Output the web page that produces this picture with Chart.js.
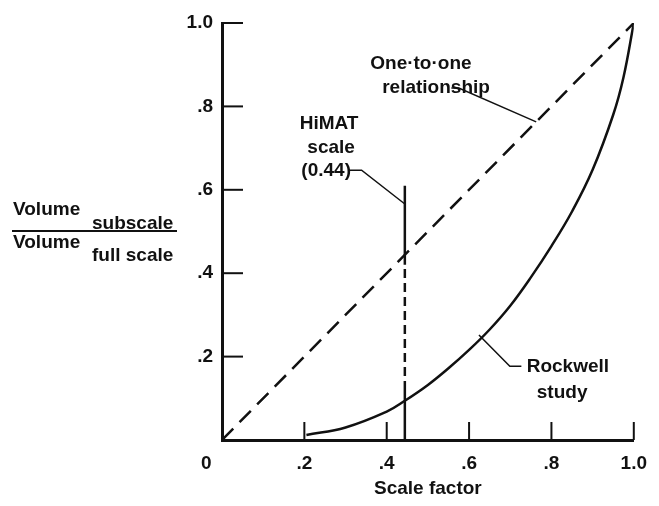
<!DOCTYPE html>
<html>
<head>
<meta charset="utf-8">
<script src="https://cdn.jsdelivr.net/npm/chart.js@4/dist/chart.umd.min.js"></script>
<style>
  html, body { margin: 0; padding: 0; background: #fff; }
  #wrap { width: 659px; height: 506px; }
</style>
</head>
<body>
<div id="wrap"><canvas id="chart" width="659" height="506"></canvas></div>
<script>
// ==== data ====
const xTickLabels = ['0', '.2', '.4', '.6', '.8', '1.0'];
const yTickLabels = ['', '.2', '.4', '.6', '.8', '1.0'];

const oneToOneX = [0, 1];
const oneToOneY = [0, 1];

const rockwellX = [0.205, 0.30, 0.40, 0.444, 0.50, 0.55, 0.60, 0.65, 0.70, 0.75, 0.80, 0.85, 0.90, 0.95, 0.975, 1.0];
const rockwellY = [0.012, 0.030, 0.068, 0.094, 0.132, 0.172, 0.216, 0.265, 0.322, 0.390, 0.465, 0.548, 0.648, 0.780, 0.870, 1.0];

// HiMAT scale line at 0.44 (solid / dashed / solid pieces)
const himatX = [0.444, 0.444, 0.444, 0.444];
const himatY = [0, 0.12, 0.42, 0.61];

const FONT = "'Liberation Sans', Arial, sans-serif";
const INK = '#111';

// annotation leaders (value space)
const leaders = [
  [[0.308, 0.647], [0.339, 0.647], [0.444, 0.566]],
  [[0.557, 0.844], [0.575, 0.844], [0.763, 0.763]],
  [[0.624, 0.252], [0.699, 0.177], [0.727, 0.177]]
];

const notes = [
  { text: 'HiMAT', x: 0.260, y: 0.758, align: 'center' },
  { text: 'scale', x: 0.265, y: 0.700, align: 'center' },
  { text: '(0.44)', x: 0.253, y: 0.645, align: 'center' },
  { text: 'One\u00b7to\u00b7one', x: 0.360, y: 0.902, align: 'left' },
  { text: 'relationship', x: 0.389, y: 0.844, align: 'left' },
  { text: 'Rockwell', x: 0.740, y: 0.175, align: 'left' },
  { text: 'study', x: 0.826, y: 0.113, align: 'center' }
];

const toPts = (xs, ys) => xs.map((v, i) => ({ x: v, y: ys[i] }));

// ==== extras: inward ticks, leaders, notes, y fraction label ====
const extras = {
  id: 'extras',
  afterDatasetsDraw(chart) {
    const { ctx, scales: { x, y } } = chart;
    const seg = (a, b, c, d) => { ctx.beginPath(); ctx.moveTo(a, b); ctx.lineTo(c, d); ctx.stroke(); };
    ctx.save();
    ctx.strokeStyle = INK;
    ctx.fillStyle = INK;

    ctx.lineWidth = 2;
    x.ticks.forEach(t => {
      if (t.value === 0) return;
      const px = x.getPixelForValue(t.value);
      seg(px, y.bottom, px, y.bottom - 18);
    });
    y.ticks.forEach(t => {
      if (t.value === 0) return;
      const py = y.getPixelForValue(t.value);
      seg(x.left, py, x.left + 21, py);
    });

    ctx.lineWidth = 1.5;
    leaders.forEach(pts => {
      ctx.beginPath();
      pts.forEach(([vx, vy], i) => {
        const px = x.getPixelForValue(vx), py = y.getPixelForValue(vy);
        if (i) ctx.lineTo(px, py); else ctx.moveTo(px, py);
      });
      ctx.stroke();
    });

    ctx.font = 'bold 19px ' + FONT;
    ctx.textBaseline = 'middle';
    notes.forEach(n => {
      ctx.textAlign = n.align;
      ctx.fillText(n.text, x.getPixelForValue(n.x), y.getPixelForValue(n.y));
    });

    // y axis title as a fraction
    ctx.textAlign = 'left';
    ctx.fillText('Volume', 13, 210);
    ctx.fillText('subscale', 92, 224);
    ctx.fillText('Volume', 13, 243);
    ctx.fillText('full scale', 92, 256);
    ctx.lineWidth = 2;
    seg(12, 231, 177, 231);
    ctx.restore();
  }
};

new Chart(document.getElementById('chart'), {
  type: 'scatter',
  data: {
    datasets: [
      {
        data: toPts(oneToOneX, oneToOneY),
        showLine: true,
        borderColor: INK,
        borderWidth: 2.5,
        borderDash: [16, 9],
        pointRadius: 0
      },
      {
        data: toPts(rockwellX, rockwellY),
        showLine: true,
        borderColor: INK,
        borderWidth: 2.5,
        tension: 0.4,
        pointRadius: 0
      },
      {
        data: toPts(himatX, himatY),
        showLine: true,
        borderColor: INK,
        borderWidth: 2.5,
        pointRadius: 0,
        segment: { borderDash: c => c.p0DataIndex === 1 ? [9, 5] : undefined }
      }
    ]
  },
  options: {
    responsive: false,
    animation: false,
    layout: { padding: { top: 23, right: 18, left: 0, bottom: 0 } },
    plugins: { legend: { display: false }, tooltip: { enabled: false } },
    scales: {
      x: {
        type: 'linear', min: 0, max: 1,
        afterFit: s => { s.height = 66; },
        grid: { display: false, drawTicks: false },
        border: { display: true, color: INK, width: 3 },
        ticks: {
          stepSize: 0.2, padding: 12, color: INK, maxRotation: 0,
          font: { family: FONT, size: 19, weight: 'bold' },
          callback: (v, i) => i === 0 ? xTickLabels[0] + '      ' : xTickLabels[i]
        },
        title: {
          display: true, text: 'Scale factor', color: INK,
          font: { family: FONT, size: 19, weight: 'bold' },
          padding: { top: 2, bottom: 6 }
        }
      },
      y: {
        type: 'linear', min: 0, max: 1,
        afterFit: s => { s.width = 222; },
        grid: { display: false, drawTicks: false },
        border: { display: true, color: INK, width: 3 },
        ticks: {
          stepSize: 0.2, padding: 9, color: INK,
          font: { family: FONT, size: 19, weight: 'bold' },
          callback: (v, i) => yTickLabels[i]
        }
      }
    }
  },
  plugins: [extras]
});
</script>
</body>
</html>
